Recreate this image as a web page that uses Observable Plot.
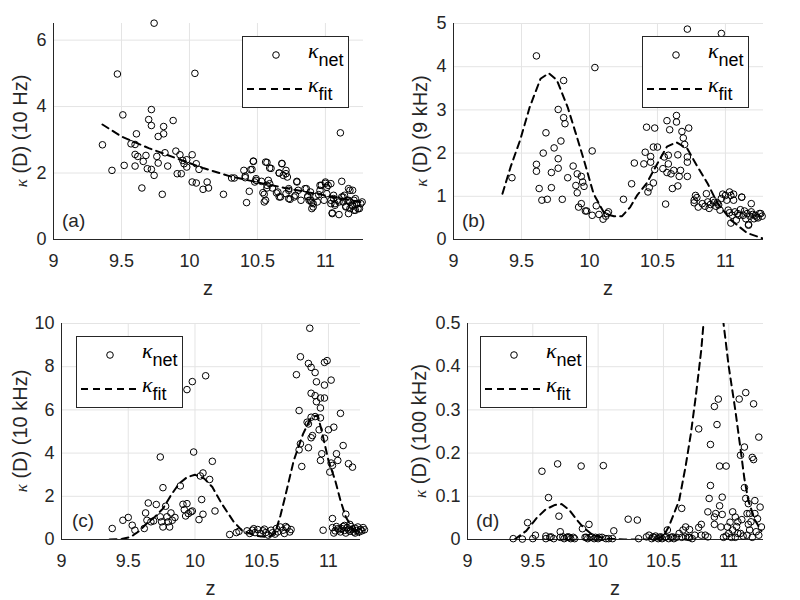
<!DOCTYPE html>
<html><head><meta charset="utf-8">
<script src="https://cdn.jsdelivr.net/npm/d3@7"></script>
<script src="https://cdn.jsdelivr.net/npm/@observablehq/plot@0.6"></script>
<style>
body{margin:0;background:#fff;}
#root{position:relative;width:800px;height:600px;font-family:"Liberation Sans",Arial,sans-serif;}
#root svg{position:absolute;}
</style></head><body><div id="root"></div>
<script>
// ---- data: [z, kappa] ----
const pointsA = [[9.36,2.85],[9.43,2.08],[9.47,4.98],[9.51,3.75],[9.52,2.23],[9.57,2.88],[9.60,2.86],[9.61,3.18],[9.60,2.56],[9.60,2.21],[9.62,2.50],[9.65,1.55],[9.66,2.35],[9.68,2.53],[9.69,2.13],[9.70,3.61],[9.72,3.43],[9.72,3.91],[9.72,2.11],[9.74,1.93],[9.74,6.51],[9.76,2.50],[9.77,3.10],[9.77,2.30],[9.80,1.36],[9.81,3.18],[9.81,3.40],[9.82,2.61],[9.84,2.21],[9.88,3.58],[9.90,2.66],[9.91,1.98],[9.93,2.55],[9.94,1.98],[9.95,2.38],[9.96,2.28],[9.98,2.40],[9.98,2.18],[10.02,2.55],[10.02,1.73],[10.04,5.00],[10.05,2.28],[10.05,1.70],[10.07,2.11],[10.10,1.51],[10.13,1.73],[10.14,1.55],[10.25,1.36],[10.31,1.85],[10.33,1.85],[10.40,2.08],[10.41,1.91],[10.42,1.11],[10.44,1.45],[10.46,2.11],[10.47,2.36],[10.48,1.73],[10.49,1.83],[10.54,1.41],[10.55,1.13],[10.56,2.33],[10.57,1.55],[10.58,1.78],[10.59,2.15],[10.59,1.68],[10.61,1.55],[10.64,1.40],[10.66,1.28],[10.66,2.00],[10.68,2.28],[10.69,1.93],[10.71,2.08],[10.71,1.38],[10.72,1.88],[10.73,1.53],[10.74,1.21],[10.78,1.33],[10.79,1.73],[10.82,1.18],[10.85,1.53],[10.87,1.28],[10.88,1.18],[10.89,1.43],[10.90,1.11],[10.91,0.98],[10.93,1.30],[10.94,1.13],[10.95,1.35],[10.96,1.48],[10.97,1.63],[10.99,1.18],[11.00,1.73],[11.01,1.38],[11.02,1.63],[11.04,1.68],[11.04,1.08],[11.05,0.78],[11.06,1.23],[11.07,1.08],[11.09,1.18],[11.10,0.75],[11.11,3.21],[11.12,1.28],[11.12,1.75],[11.13,1.13],[11.14,1.33],[11.15,1.00],[11.16,1.18],[11.17,1.53],[11.17,0.78],[11.18,0.93],[11.18,1.13],[11.20,1.48],[11.20,1.00],[11.21,1.18],[11.22,0.88],[11.23,1.06],[11.24,0.93],[11.26,1.08],
[10.47,2.35],[10.57,2.32],[10.60,2.14],[10.68,2.29],[10.71,1.98],[10.66,2.0],[10.79,1.75],[10.41,1.86],[10.45,2.1],[10.49,1.78],[10.53,1.75],[10.57,1.63],[10.55,1.36],[10.56,1.18],[10.65,1.43],[10.67,1.28],[10.73,1.48],[10.80,1.48],[10.73,1.23],[10.77,1.28],[10.86,1.53],[10.87,1.3],[10.89,1.18],[10.91,1.08],[10.96,1.63],[11.0,1.69],[11.01,1.57],[11.04,1.18],[11.06,1.33],[11.07,1.03],[11.10,1.13],[11.13,1.28],[11.15,0.98],[11.17,1.18],[11.18,1.48],[11.20,1.03],[11.21,0.88],[11.22,1.23],[11.23,1.08],[11.25,0.93],[11.27,1.13],[11.05,0.80],[10.90,0.93]];
const fitA = [[9.36,3.46],[9.5,3.1],[9.7,2.75],[9.9,2.45],[10.1,2.15],[10.3,1.9],[10.5,1.72],[10.7,1.55],[10.9,1.4],[11.1,1.25],[11.27,1.12]];

const pointsB = [[9.43,1.43],[9.61,1.74],[9.61,1.58],[9.61,4.25],[9.63,1.18],[9.65,0.91],[9.66,2.00],[9.68,2.47],[9.69,0.93],[9.72,1.55],[9.72,1.20],[9.74,2.12],[9.77,1.87],[9.77,1.65],[9.77,3.01],[9.79,2.28],[9.80,0.93],[9.81,3.68],[9.81,2.82],[9.82,2.68],[9.84,1.43],[9.88,1.70],[9.90,1.25],[9.91,1.52],[9.91,1.08],[9.92,0.75],[9.94,1.46],[9.94,0.83],[9.95,1.33],[9.96,1.23],[9.97,0.66],[9.98,0.66],[10.02,2.05],[10.02,0.56],[10.04,3.98],[10.05,0.78],[10.07,0.58],[10.10,0.47],[10.12,0.54],[10.13,0.60],[10.14,0.64],[10.25,0.93],[10.31,1.29],[10.33,1.77],[10.40,1.75],[10.41,2.02],[10.42,2.60],[10.43,1.10],[10.44,1.20],[10.45,1.79],[10.45,1.92],[10.47,2.14],[10.47,1.31],[10.48,2.58],[10.48,1.62],[10.50,2.14],[10.54,1.64],[10.55,1.91],[10.56,0.82],[10.57,2.75],[10.57,1.55],[10.58,1.95],[10.58,1.75],[10.59,2.54],[10.60,1.52],[10.61,1.18],[10.62,1.60],[10.64,2.87],[10.64,2.72],[10.65,1.96],[10.65,1.24],[10.66,1.46],[10.67,1.60],[10.68,2.50],[10.69,2.35],[10.70,2.20],[10.72,1.91],[10.72,1.79],[10.73,2.58],[10.72,4.87],[10.97,4.77],[10.72,1.46],
[10.77,0.91],[10.79,0.97],[10.80,0.75],[10.83,0.83],[10.85,0.77],[10.87,0.87],[10.89,0.81],[10.91,0.91],[10.93,0.77],[10.94,0.85],[10.96,0.68],[10.97,0.95],[11.00,1.02],[11.01,0.91],[11.02,0.68],[11.04,1.02],[11.05,0.56],[11.06,0.91],[11.07,0.64],[11.08,0.45],[11.10,0.56],[11.11,0.69],[11.12,0.98],[11.13,0.56],[11.15,0.48],[11.16,0.60],[11.17,0.33],[11.18,0.54],[11.19,0.64],[11.21,0.48],[11.22,0.56],[11.23,0.52],[11.25,0.60],[11.27,0.54],[10.77,0.85],[10.78,1.02],[10.86,1.06],[10.98,1.05],[11.03,1.10],[11.06,1.05],[11.12,0.98],[11.17,0.35],[11.19,0.83],[11.04,0.38],[11.26,0.60],[10.88,0.72],[10.92,0.86],[10.95,0.80],[11.03,0.62],[11.09,0.60],[11.14,0.66],[11.2,0.58],[11.24,0.50]];
const fitB = [[9.36,1.06],[9.42,1.68],[9.49,2.3],[9.56,3.06],[9.64,3.72],[9.70,3.85],[9.76,3.69],[9.84,3.06],[9.90,2.45],[9.96,1.83],[10.03,1.06],[10.11,0.6],[10.18,0.54],[10.24,0.54],[10.30,0.75],[10.35,1.02],[10.42,1.3],[10.50,1.76],[10.57,2.15],[10.64,2.25],[10.72,2.1],[10.79,1.71],[10.87,1.29],[10.94,0.85],[11.04,0.45],[11.16,0.15],[11.27,0.03]];

const pointsC = [[9.38,0.51],[9.46,0.89],[9.50,1.02],[9.53,0.66],[9.55,0.43],[9.62,0.51],[9.63,1.23],[9.64,0.89],[9.65,1.69],[9.67,0.82],[9.69,0.86],[9.71,1.62],[9.74,3.82],[9.74,1.05],[9.75,0.82],[9.76,0.58],[9.76,2.40],[9.78,1.54],[9.79,1.05],[9.80,0.82],[9.81,0.58],[9.82,1.23],[9.83,0.89],[9.85,1.02],[9.89,2.48],[9.91,1.63],[9.92,1.38],[9.93,1.09],[9.94,6.94],[9.94,1.66],[9.95,1.20],[9.97,1.28],[9.98,7.31],[9.99,4.05],[9.98,1.32],[10.03,0.92],[10.04,2.94],[10.05,1.85],[10.06,3.08],[10.06,1.17],[10.08,7.58],[10.11,2.78],[10.13,3.62],[10.15,1.32],[10.26,0.23],[10.31,0.32],[10.33,0.38],
[10.39,0.40],[10.41,0.28],[10.43,0.43],[10.45,0.32],[10.47,0.46],[10.49,0.28],[10.51,0.40],[10.53,0.32],[10.55,0.20],[10.57,0.43],[10.58,0.31],[10.61,0.51],[10.62,0.35],[10.64,0.58],[10.66,0.43],[10.67,0.28],[10.69,0.54],[10.71,0.35],[10.72,0.46],[10.44,0.50],[10.52,0.48],[10.60,0.25],[10.68,0.60],
[10.86,9.78],[10.79,8.46],[10.85,8.15],[10.87,7.97],[10.97,8.20],[10.99,8.28],[10.90,7.73],[10.76,7.63],[11.02,7.38],[10.91,7.30],[10.97,7.15],[10.87,6.77],[10.90,6.66],[10.94,6.55],[10.97,6.55],[10.91,6.38],[10.78,5.97],[11.09,5.84],[10.94,6.09],[10.87,5.66],[10.90,5.69],[10.84,5.43],[10.85,5.35],[10.94,5.63],[11.04,5.20],[11.00,5.08],[10.93,5.08],[10.88,4.81],[10.87,4.71],[10.97,4.69],[10.79,4.43],[11.11,4.35],[10.85,4.25],[10.78,4.15],[11.06,3.97],[10.95,3.97],[10.94,3.66],[11.02,3.54],[11.07,3.66],[11.03,3.43],[11.15,3.51],[11.18,3.35],[10.80,3.38],[11.01,3.12],[11.13,1.17],[11.03,0.97],[10.96,0.43],
[11.03,0.55],[11.05,0.40],[11.06,0.60],[11.08,0.45],[11.09,0.35],[11.10,0.50],[11.11,0.60],[11.12,0.42],[11.13,0.30],[11.14,0.55],[11.15,0.45],[11.16,0.38],[11.17,0.60],[11.18,0.48],[11.19,0.35],[11.20,0.52],[11.21,0.42],[11.22,0.58],[11.23,0.35],[11.24,0.47],[11.25,0.40],[11.26,0.55],[11.27,0.45],[11.04,0.30],[11.07,0.50],[11.12,0.65],[11.16,0.70],[11.20,0.30]];
const fitC = [[9.36,0],[9.45,0.02],[9.52,0.12],[9.58,0.38],[9.64,0.75],[9.70,1.05],[9.76,1.43],[9.82,2.05],[9.88,2.58],[9.94,2.88],[10.0,3.0],[10.07,2.82],[10.13,2.43],[10.2,1.66],[10.29,0.82],[10.35,0.43],[10.45,0.18],[10.55,0.1],[10.6,0.3],[10.64,1.1],[10.68,2.1],[10.74,3.66],[10.81,4.89],[10.87,5.66],[10.92,5.75],[10.95,5.0],[11.0,3.66],[11.05,2.74],[11.09,1.81],[11.13,1.04],[11.18,0.51],[11.22,0.25],[11.27,0.1]];

const pointsD = [[9.35,0.002],[9.42,0.001],[9.46,0.039],[9.50,0.002],[9.52,0.010],[9.57,0.158],[9.60,0.008],[9.60,0.002],[9.62,0.097],[9.63,0.005],[9.64,0.006],[9.66,0.002],[9.69,0.175],[9.70,0.054],[9.71,0.018],[9.71,0.005],[9.73,0.006],[9.74,0.002],[9.76,0.005],[9.77,0.006],[9.78,0.005],[9.79,0.002],[9.81,0.005],[9.82,0.002],[9.87,0.170],[9.88,0.025],[9.90,0.005],[9.91,0.005],[9.93,0.035],[9.92,0.002],[9.94,0.005],[9.95,0.006],[9.97,0.002],[9.98,0.005],[10.0,0.002],[10.01,0.005],[10.03,0.005],[10.04,0.171],[10.06,0.002],[10.08,0.002],[10.11,0.002],[10.12,0.020],[10.23,0.047],[10.30,0.045],[10.31,0.002],[10.37,0.006],[10.39,0.010],[10.41,0.002],[10.42,0.006],[10.43,0.005],[10.44,0.008],[10.46,0.002],[10.47,0.005],[10.48,0.006],[10.49,0.002],[10.51,0.005],[10.52,0.006],[10.53,0.022],[10.54,0.002],[10.56,0.005],[10.57,0.006],[10.58,0.002],[10.60,0.005],[10.62,0.014],[10.64,0.072],[10.64,0.005],[10.65,0.022],[10.67,0.006],[10.67,0.029],[10.69,0.005],[10.70,0.005],[10.70,0.023],[10.72,0.002],[10.74,0.010],[10.77,0.256],[10.77,0.028],[10.79,0.035],[10.79,0.010],[10.82,0.010],[10.84,0.064],[10.84,0.006],[10.86,0.220],[10.86,0.125],[10.85,0.095],[10.89,0.308],[10.89,0.035],[10.89,0.052],[10.90,0.060],[10.91,0.266],[10.92,0.325],[10.93,0.170],[10.93,0.078],[10.94,0.029],[10.95,0.098],[10.95,0.058],[10.96,0.005],[10.98,0.170],[10.99,0.029],[11.00,0.014],[11.02,0.005],[11.03,0.064],[11.03,0.022],[11.05,0.052],[11.05,0.005],[11.07,0.014],[11.07,0.041],[11.08,0.325],[11.09,0.195],[11.09,0.014],[11.10,0.046],[11.12,0.214],[11.12,0.120],[11.13,0.340],[11.13,0.095],[11.14,0.060],[11.14,0.010],[11.15,0.083],[11.16,0.060],[11.16,0.022],[11.17,0.041],[11.18,0.005],[11.18,0.190],[11.19,0.185],[11.19,0.314],[11.20,0.090],[11.21,0.018],[11.22,0.048],[11.23,0.237],[11.24,0.075],[11.25,0.029],[11.06,0.030],[11.11,0.008],[11.15,0.035],[11.2,0.060],[11.23,0.010],[10.98,0.008],[11.01,0.040]];
const fitD = [[9.36,0],[9.45,0.02],[9.53,0.05],[9.6,0.07],[9.67,0.08],[9.72,0.082],[9.78,0.068],[9.83,0.048],[9.88,0.03],[9.96,0.01],[10.06,0.002],[10.2,0],[10.45,0],[10.5,0.008],[10.54,0.029],[10.62,0.09],[10.67,0.17],[10.71,0.245],[10.75,0.337],[10.79,0.44],[10.84,0.62],[10.88,0.7],[10.92,0.64],[10.96,0.5],[11.0,0.4],[11.05,0.3],[11.09,0.21],[11.12,0.14],[11.15,0.09],[11.2,0.045],[11.25,0.02]];

const zTicks = [9, 9.5, 10, 10.5, 11];
const yTicksA = [0, 2, 4, 6];
const yTicksB = [0, 1, 2, 3, 4, 5];
const yTicksC = [0, 2, 4, 6, 8, 10];
const yTicksD = [0, 0.1, 0.2, 0.3, 0.4, 0.5];
const panelLabels = ["(a)", "(b)", "(c)", "(d)"];
const yLabelUnits = ["(10 Hz)", "(9 kHz)", "(10 kHz)", "(100 kHz)"];

const INK = "#262626", GRID = "#e4e4e4", FONT = "'Liberation Sans', Arial, sans-serif";

function panel(cfg) {
  const pts = cfg.points.map(([z, k]) => ({z, k}));
  const fit = cfg.fit.map(([z, k]) => ({z, k}));
  const svg = Plot.plot({
    width: 400, height: 300,
    marginLeft: cfg.ml, marginRight: cfg.mr, marginTop: 23, marginBottom: 61,
    style: {fontFamily: FONT, fontSize: "18px", color: INK, background: "transparent", overflow: "visible"},
    x: {domain: [9, cfg.xmax]},
    y: {domain: [0, cfg.ymax]},
    marks: [
      Plot.gridX(zTicks, {stroke: GRID, strokeOpacity: 1}),
      Plot.gridY(cfg.yTicks, {stroke: GRID, strokeOpacity: 1}),
      Plot.axisX(zTicks, {tickSize: 0, tickPadding: 15, tickFormat: d => String(d), label: null}),
      Plot.axisY(cfg.yTicks, {tickSize: 0, tickPadding: 7, tickFormat: d => String(d), label: null}),
      Plot.ruleX([9], {stroke: INK, strokeWidth: 1}),
      Plot.ruleY([0], {stroke: INK, strokeWidth: 1}),
      Plot.line(fit, {x: "z", y: "k", stroke: "#000", strokeWidth: 2, strokeDasharray: "7,5", clip: true}),
      Plot.dot(pts, {x: "z", y: "k", r: 3.3, stroke: "#000", strokeWidth: 1, fill: "none"})
    ]
  });
  svg.style.left = cfg.left + "px";
  svg.style.top = cfg.top + "px";
  const s = d3.select(svg);
  const cx = (cfg.ml + 400 - cfg.mr) / 2;
  // x label
  s.append("text").attr("x", cx).attr("y", 295).attr("text-anchor", "middle")
    .attr("font-family", FONT).attr("font-size", 20).attr("fill", INK).text("z");
  // y label
  const yl = s.append("text").attr("transform", `translate(${cfg.ylx},131) rotate(-90)`)
    .attr("text-anchor", "middle").attr("font-family", FONT).attr("font-size", 20).attr("fill", INK);
  yl.append("tspan").attr("font-family", "'Liberation Serif', serif").attr("font-style", "italic").attr("font-size", 17).text("κ");
  yl.append("tspan").text(" (D) " + cfg.unit);
  // panel label
  s.append("text").attr("x", cfg.plx).attr("y", 227).attr("text-anchor", "start")
    .attr("font-family", FONT).attr("font-size", 19).attr("fill", INK).text(cfg.label);
  // legend
  const lx = cfg.lx, ly = 36;
  const g = s.append("g");
  g.append("rect").attr("x", lx + 0.5).attr("y", ly + 0.5).attr("width", 106).attr("height", 71)
    .attr("fill", "#fff").attr("stroke", INK).attr("stroke-width", 1);
  g.append("circle").attr("cx", lx + 34).attr("cy", ly + 19).attr("r", 3.3).attr("fill", "none").attr("stroke", "#000");
  g.append("line").attr("x1", lx + 5).attr("x2", lx + 63).attr("y1", ly + 53).attr("y2", ly + 53)
    .attr("stroke", "#000").attr("stroke-width", 2).attr("stroke-dasharray", "7,5");
  [["net", 22], ["fit", 56]].forEach(([sub, y]) => {
    const t = g.append("text").attr("x", lx + 66).attr("y", ly + y).attr("text-anchor", "start")
      .attr("fill", "#000").attr("font-family", FONT);
    t.append("tspan").attr("font-family", "'Liberation Serif', serif").attr("font-style", "italic").attr("font-size", 22).text("κ");
    t.append("tspan").attr("dy", 8).attr("font-size", 18).text(sub);
  });
  document.getElementById("root").appendChild(svg);
}

panel({left: 0, top: 0, ml: 53, mr: 37, xmax: 11.28, ymax: 6.5, yTicks: yTicksA, points: pointsA, fit: fitA, label: panelLabels[0], unit: yLabelUnits[0], ylx: 27, plx: 62, lx: 242});
panel({left: 400, top: 0, ml: 53, mr: 37, xmax: 11.28, ymax: 5, yTicks: yTicksB, points: pointsB, fit: fitB, label: panelLabels[1], unit: yLabelUnits[1], ylx: 27, plx: 62, lx: 242});
panel({left: 0, top: 300, ml: 61, mr: 40, xmax: 11.24, ymax: 10, yTicks: yTicksC, points: pointsC, fit: fitC, label: panelLabels[2], unit: yLabelUnits[2], ylx: 27, plx: 72, lx: 76});
panel({left: 400, top: 300, ml: 67, mr: 37, xmax: 11.266, ymax: 0.5, yTicks: yTicksD, points: pointsD, fit: fitD, label: panelLabels[3], unit: yLabelUnits[3], ylx: 26, plx: 76, lx: 80});
</script></body></html>
